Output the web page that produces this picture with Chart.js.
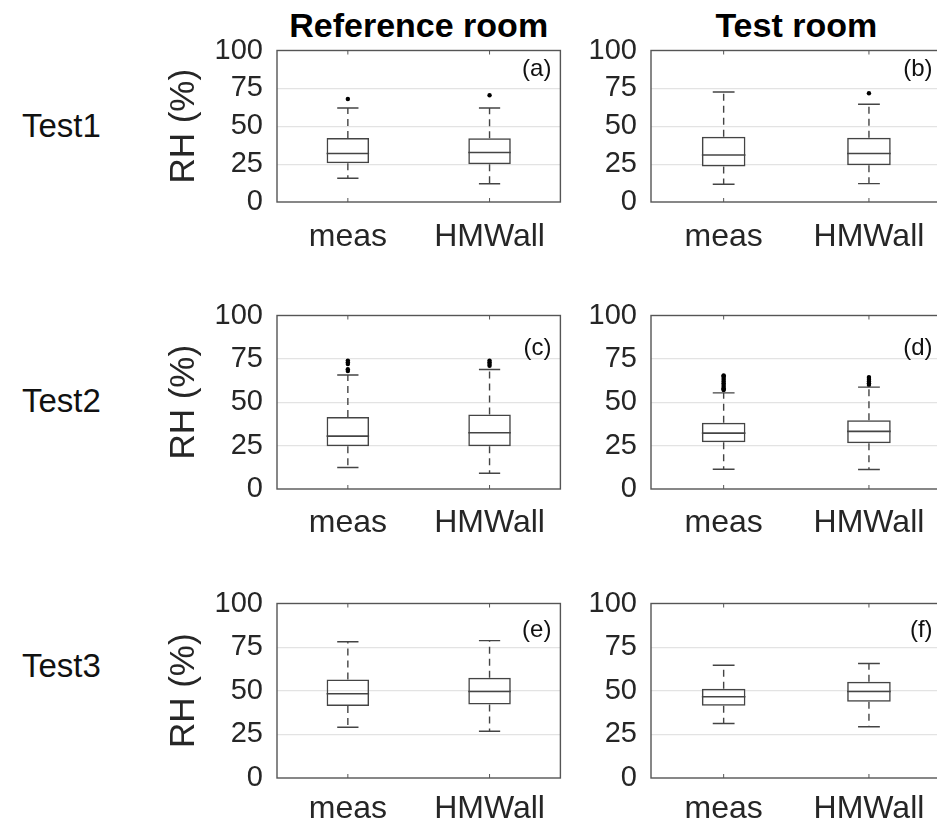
<!DOCTYPE html>
<html>
<head>
<meta charset="utf-8">
<script src="https://cdn.jsdelivr.net/npm/chart.js@4.4.1/dist/chart.umd.min.js"></script>
<style>
  html, body { margin: 0; padding: 0; background: #fff; }
  body { width: 937px; height: 823px; overflow: hidden; position: relative;
         font-family: "Liberation Sans", Arial, Helvetica, sans-serif; }
  canvas.panel { position: absolute; }
  .coltitle { position: absolute; font-weight: bold; font-size: 34px; line-height: 1;
              color: #000; white-space: nowrap; transform: translateX(-50%); }
  .rowlabel { position: absolute; font-size: 33px; line-height: 1; color: #111; white-space: nowrap; }
</style>
</head>
<body>
<div class="coltitle" id="t0">Reference room</div>
<div class="coltitle" id="t1">Test room</div>
<div class="rowlabel" id="r0">Test1</div>
<div class="rowlabel" id="r1">Test2</div>
<div class="rowlabel" id="r2">Test3</div>
<canvas class="panel" id="p0"></canvas>
<canvas class="panel" id="p1"></canvas>
<canvas class="panel" id="p2"></canvas>
<canvas class="panel" id="p3"></canvas>
<canvas class="panel" id="p4"></canvas>
<canvas class="panel" id="p5"></canvas>
<script>
// ---- data: relative humidity (%) box statistics, panels (a)..(f), each [meas, HMWall]
const groups = ['meas', 'HMWall'];
const panelLetters = ['(a)', '(b)', '(c)', '(d)', '(e)', '(f)'];
const columnTitles = ['Reference room', 'Test room'];
const rowTitles = ['Test1', 'Test2', 'Test3'];
const yTickValues = [0, 25, 50, 75, 100];

const whiskerLow  = [[15.7, 12.0], [11.7, 12.1], [12.4, 9.1], [11.4, 11.2], [29.1, 26.8], [31.2, 29.4]];
const quartile1   = [[25.6, 25.0], [23.4, 24.3], [24.7, 24.7], [27.0, 26.3], [41.2, 42.1], [41.4, 43.7]];
const medianRH    = [[32.0, 32.7], [31.0, 32.0], [30.5, 32.4], [32.2, 33.2], [48.3, 49.6], [46.6, 49.6]];
const quartile3   = [[42.2, 42.0], [43.0, 42.4], [41.5, 42.9], [38.2, 39.6], [56.4, 57.5], [51.2, 55.2]];
const whiskerHigh = [[62.0, 62.0], [72.6, 64.5], [65.7, 68.9], [55.4, 58.7], [78.1, 78.7], [64.6, 65.6]];
const outliers = [
  [[68.0], [70.5]],
  [[], [71.8]],
  [[68.0, 69.0, 72.0, 73.0, 74.0], [71.0, 72.0, 73.0, 74.0]],
  [[57.0, 57.5, 58.0, 59.0, 60.0, 61.0, 62.0, 63.0, 64.0, 65.0, 65.5], [60.0, 61.0, 62.0, 63.0, 64.0, 64.5]],
  [[], []],
  [[], []]
];

// ---- layout (pixels)
const plotLeft = [277, 651], plotRight = [560.4, 941.6];
const plotTop = [50, 315, 603], plotBottom = [201, 487.7, 776.7];
const canvasLeft = [150, 570], canvasRightEdge = [570, 950];
const padTop = 20, xAxisHeight = 50;
const xTickPadding = [8, 7, 4];
const letterDy = [18.5, 33, 26.5];
const rowLabelX = 22;
const rowLabelBaseline = [137, 412, 677];
const titleBaseline = 36.7;

const lineGray = '#444444';
const axisGray = '#555555';
const textGray = '#262626';
const gridGray = '#e3e3e3';
const FONT = '"Liberation Sans", Arial, Helvetica, sans-serif';

// titles and row labels
columnTitles.forEach((t, c) => {
  const el = document.getElementById('t' + c);
  el.textContent = t;
  el.style.left = ((plotLeft[c] + plotRight[c]) / 2) + 'px';
  el.style.top = (titleBaseline - 28.8) + 'px';
});
rowTitles.forEach((t, r) => {
  const el = document.getElementById('r' + r);
  el.textContent = t;
  el.style.left = rowLabelX + 'px';
  el.style.top = (rowLabelBaseline[r] - 27.9) + 'px';
});

// draws frame, tick marks, whiskers, medians and panel letter
const boxWhiskers = {
  id: 'boxWhiskers',
  beforeDatasetsDraw(chart, args, opts) {
    const { ctx, chartArea: a } = chart;
    const xs = chart.scales.x;
    ctx.save();
    ctx.strokeStyle = axisGray;
    ctx.lineWidth = 1.4;
    ctx.strokeRect(a.left, a.top, a.right - a.left, a.bottom - a.top);
    ctx.lineWidth = 1;
    groups.forEach((g, k) => {
      const x = xs.getPixelForValue(k);
      ctx.beginPath();
      ctx.moveTo(x, a.bottom); ctx.lineTo(x, a.bottom - 4);
      ctx.moveTo(x, a.top); ctx.lineTo(x, a.top + 4);
      ctx.stroke();
    });
    ctx.restore();
  },
  afterDatasetsDraw(chart, args, opts) {
    const i = opts.panel;
    const { ctx, chartArea: a } = chart;
    const ys = chart.scales.y;
    const meta = chart.getDatasetMeta(0);
    ctx.save();
    ctx.strokeStyle = lineGray;
    groups.forEach((g, k) => {
      const bar = meta.data[k];
      const x = bar.x;
      const bw = bar.width;
      const yq1 = ys.getPixelForValue(quartile1[i][k]);
      const yq3 = ys.getPixelForValue(quartile3[i][k]);
      const ylo = ys.getPixelForValue(whiskerLow[i][k]);
      const yhi = ys.getPixelForValue(whiskerHigh[i][k]);
      const ymed = ys.getPixelForValue(medianRH[i][k]);
      // dashed whiskers
      ctx.lineWidth = 1.4;
      ctx.setLineDash([7, 5]);
      ctx.beginPath();
      ctx.moveTo(x, yq3); ctx.lineTo(x, yhi);
      ctx.moveTo(x, yq1); ctx.lineTo(x, ylo);
      ctx.stroke();
      ctx.setLineDash([]);
      // caps
      ctx.beginPath();
      ctx.moveTo(x - bw / 4, yhi); ctx.lineTo(x + bw / 4, yhi);
      ctx.moveTo(x - bw / 4, ylo); ctx.lineTo(x + bw / 4, ylo);
      ctx.stroke();
      // median
      ctx.lineWidth = 1.6;
      ctx.beginPath();
      ctx.moveTo(x - bw / 2, ymed); ctx.lineTo(x + bw / 2, ymed);
      ctx.stroke();
    });
    // panel letter
    ctx.fillStyle = '#111';
    ctx.font = '24px ' + FONT;
    ctx.textAlign = 'right';
    ctx.textBaseline = 'middle';
    ctx.fillText(panelLetters[i], a.right - 9, a.top + opts.letterDy);
    ctx.restore();
  }
};

function makeChart(i, cv, w, h) {
  const col = i % 2, row = Math.floor(i / 2);
  cv.width = w; cv.height = h;
  cv.style.width = w + 'px'; cv.style.height = h + 'px';
  const yAxisWidth = plotLeft[col] - canvasLeft[col];
  const rightPad = canvasRightEdge[col] - plotRight[col];

  const outlierPoints = [];
  groups.forEach((g, k) => outliers[i][k].forEach(v => outlierPoints.push({ x: g, y: v })));

  return new Chart(cv.getContext('2d'), {
    type: 'bar',
    data: {
      labels: groups,
      datasets: [
        {
          type: 'bar',
          data: groups.map((g, k) => [quartile1[i][k], quartile3[i][k]]),
          backgroundColor: 'rgba(255,255,255,0)',
          borderColor: lineGray,
          borderWidth: 1.5,
          borderSkipped: false,
          barPercentage: 0.3,
          categoryPercentage: 1.0,
          order: 2
        },
        {
          type: 'line',
          data: outlierPoints,
          showLine: false,
          pointRadius: 2.2,
          pointBackgroundColor: '#000',
          pointBorderWidth: 0,
          order: 1
        }
      ]
    },
    options: {
      responsive: false,
      maintainAspectRatio: false,
      animation: false,
      events: [],
      layout: { padding: { top: padTop, right: rightPad, left: 0, bottom: 0 } },
      plugins: {
        legend: { display: false },
        tooltip: { enabled: false },
        boxWhiskers: { panel: i, letterDy: letterDy[row] }
      },
      scales: {
        x: {
          offset: true,
          grid: { display: false },
          border: { display: false },
          ticks: { color: textGray, font: { family: FONT, size: 32 }, padding: xTickPadding[row], maxRotation: 0, autoSkip: false },
          afterFit(s) { s.height = xAxisHeight; }
        },
        y: {
          min: 0, max: 100,
          afterBuildTicks(s) { s.ticks = yTickValues.map(v => ({ value: v })); },
          grid: {
            drawTicks: false,
            color: ctx => (ctx.tick && (ctx.tick.value === 0 || ctx.tick.value === 100)) ? 'rgba(0,0,0,0)' : gridGray,
            lineWidth: 1.2
          },
          border: { display: false },
          ticks: { color: textGray, font: { family: FONT, size: 29, lineHeight: 1 }, padding: 14, autoSkip: false },
          title: {
            display: col === 0,
            text: 'RH (%)',
            color: textGray,
            font: { family: FONT, size: 35 },
            padding: { top: 13, bottom: 0 }
          },
          afterFit(s) { s.width = yAxisWidth; }
        }
      }
    },
    plugins: [boxWhiskers]
  });
}

for (let i = 0; i < 6; i++) {
  const col = i % 2, row = Math.floor(i / 2);
  const cv = document.getElementById('p' + i);
  let w = canvasRightEdge[col] - canvasLeft[col];
  let h = padTop + (plotBottom[row] - plotTop[row]) + xAxisHeight;
  let chart = makeChart(i, cv, w, h);
  // correct the canvas size so the plot area has exactly the wanted extent
  const ca = chart.chartArea;
  const dW = (plotRight[col] - plotLeft[col]) - (ca.right - ca.left);
  const dH = (plotBottom[row] - plotTop[row]) - (ca.bottom - ca.top);
  if (Math.abs(dW) > 0.2 || Math.abs(dH) > 0.2) {
    chart.destroy();
    w = Math.round(w + dW); h = Math.round(h + dH);
    chart = makeChart(i, cv, w, h);
  }
  const ca2 = chart.chartArea;
  cv.style.left = (plotLeft[col] - ca2.left) + 'px';
  cv.style.top = (plotTop[row] - ca2.top) + 'px';
}
</script>
</body>
</html>
